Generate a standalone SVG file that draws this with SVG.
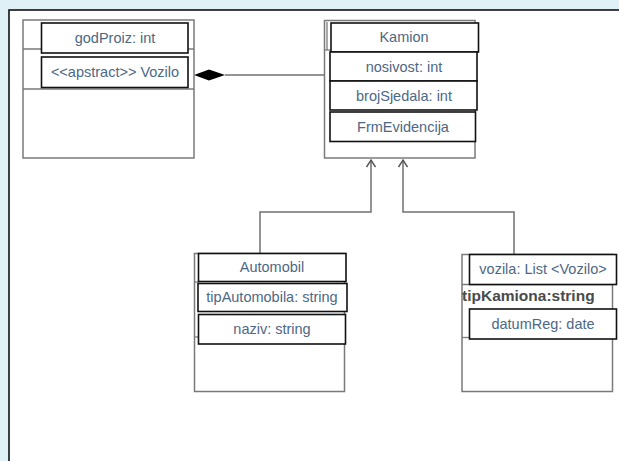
<svg xmlns="http://www.w3.org/2000/svg" width="619" height="461" viewBox="0 0 619 461">
  <defs>
    <marker id="open-arrow" markerWidth="10" markerHeight="12" refX="7.5" refY="5" orient="auto" markerUnits="userSpaceOnUse" viewBox="0 0 10 10">
      <path d="M0.5,0.5 L7.5,5 L0.5,9.5" fill="none" stroke="#555" stroke-width="1.4"/>
    </marker>
  </defs>
  <style>
    .cls { fill: #ffffff; stroke: #7a7a7a; stroke-width: 1.5; }
    .sep { stroke: #7a7a7a; stroke-width: 1.3; fill: none; }
    .box { fill: #ffffff; stroke: #111; stroke-width: 1.6; }
    .lbl { font-family: "Liberation Sans", Arial, sans-serif; font-size: 14.5px; fill: #4d6885; text-anchor: middle; }
    .plain { font-family: "Liberation Sans", Arial, sans-serif; font-size: 15.5px; font-weight: bold; fill: #4a4a4a; }
    .conn { fill: none; stroke: #707070; stroke-width: 1.5; }
  </style>

  <!-- page background and canvas frame -->
  <rect x="0" y="0" width="619" height="461" fill="#e0f0f7"/>
  <rect x="9" y="10" width="620" height="460" fill="#ffffff" stroke="#111" stroke-width="1.6"/>

  <!-- connectors -->
  <g id="connectors">
    <path class="conn" d="M225,75 L324,75"/>
    <path d="M194,75 L209,69.5 L225,75 L209,80.5 Z" fill="#000"/>
    <path class="conn" d="M260,253 L260,212 L371,212 L371,160" marker-end="url(#open-arrow)"/>
    <path class="conn" d="M514,254 L514,212 L403,212 L403,160" marker-end="url(#open-arrow)"/>
  </g>

  <!-- abstract vehicle class -->
  <g id="vozilo">
    <rect class="cls" x="23" y="20" width="171" height="138"/>
    <line class="sep" x1="23" y1="49" x2="194" y2="49"/>
    <line class="sep" x1="23" y1="89" x2="194" y2="89"/>
    <rect class="box" x="41.5" y="23" width="146.5" height="30"/>
    <text class="lbl" x="115" y="43">godProiz: int</text>
    <rect class="box" x="41.5" y="57" width="146.5" height="30.5"/>
    <text class="lbl" x="115" y="77">&lt;&lt;apstract&gt;&gt; Vozilo</text>
  </g>

  <!-- truck base class -->
  <g id="kamion">
    <rect class="cls" x="324.5" y="20.5" width="150.5" height="137.5"/>
    <line class="sep" x1="327" y1="22" x2="327" y2="50"/>
    <line class="sep" x1="324.5" y1="50" x2="331" y2="50"/>
    <rect class="box" x="331" y="23" width="147.5" height="29"/>
    <text class="lbl" x="404" y="42">Kamion</text>
    <rect class="box" x="330" y="52" width="147" height="29"/>
    <text class="lbl" x="404" y="72">nosivost: int</text>
    <rect class="box" x="330" y="81" width="147" height="29"/>
    <text class="lbl" x="404" y="101">brojSjedala: int</text>
    <rect class="box" x="330" y="112" width="145.5" height="29.5"/>
    <text class="lbl" x="403" y="132">FrmEvidencija</text>
  </g>

  <!-- car class -->
  <g id="automobil">
    <rect class="cls" x="194.5" y="253.5" width="150" height="138"/>
    <line class="sep" x1="194.5" y1="282" x2="199" y2="282"/>
    <line class="sep" x1="194.5" y1="337" x2="199" y2="337"/>
    <rect class="box" x="198.5" y="253.5" width="147.5" height="28"/>
    <text class="lbl" x="272" y="272">Automobil</text>
    <rect class="box" x="198" y="283.5" width="149" height="28"/>
    <text class="lbl" x="272" y="302">tipAutomobila: string</text>
    <rect class="box" x="198.5" y="314.5" width="147" height="29.5"/>
    <text class="lbl" x="272" y="334">naziv: string</text>
  </g>

  <!-- truck type class -->
  <g id="tip-kamiona">
    <rect class="cls" x="462" y="254.5" width="150.5" height="137"/>
    <line class="sep" x1="462" y1="284.5" x2="612.5" y2="284.5"/>
    <line class="sep" x1="462" y1="337.5" x2="470" y2="337.5"/>
    <rect class="box" x="469.5" y="254.5" width="147" height="30"/>
    <text class="lbl" x="543" y="274">vozila: List &lt;Vozilo&gt;</text>
    <text class="plain" x="462" y="301">tipKamiona:string</text>
    <rect class="box" x="469.5" y="309" width="147" height="30"/>
    <text class="lbl" x="543" y="329">datumReg: date</text>
  </g>
</svg>
